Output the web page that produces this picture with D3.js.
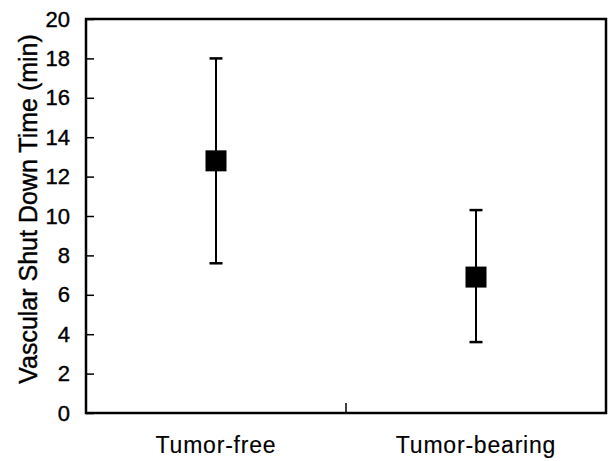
<!DOCTYPE html>
<html>
<head>
<meta charset="utf-8">
<script src="https://cdn.jsdelivr.net/npm/d3@7"></script>
<style>
  html, body { margin: 0; padding: 0; background: #fff; }
  text { font-family: "Liberation Sans", Arial, sans-serif; fill: #000; stroke: #000; stroke-width: 0.4px; }
  text.cat { stroke-width: 0.15px; }
</style>
</head>
<body>
<svg id="chart" width="611" height="461"></svg>
<script>
// values
const groups = ["Tumor-free", "Tumor-bearing"];
const meanTime = [12.8, 6.9];
const upperTime = [18.0, 10.3];
const lowerTime = [7.6, 3.6];
const yTicks = [0, 2, 4, 6, 8, 10, 12, 14, 16, 18, 20];

const svg = d3.select("#chart");
const margin = { top: 19, right: 5, bottom: 48, left: 86 };
const width = +svg.attr("width") - margin.left - margin.right;
const height = +svg.attr("height") - margin.top - margin.bottom;

const g = svg.append("g")
    .attr("transform", `translate(${margin.left},${margin.top})`);

const x = d3.scaleBand()
    .domain(groups)
    .range([0, width]);

const y = d3.scaleLinear()
    .domain([0, 20])
    .range([height, 0]);

// frame
g.append("rect")
    .attr("width", width)
    .attr("height", height)
    .attr("fill", "none")
    .attr("stroke", "#000")
    .attr("stroke-width", 2.5);

// left axis, ticks pointing inward
const yAxis = g.append("g")
    .call(d3.axisLeft(y).tickValues(yTicks).tickSize(-8).tickPadding(16));
yAxis.select(".domain").remove();
yAxis.selectAll(".tick line").attr("stroke-width", 1.5);
yAxis.selectAll(".tick text")
    .attr("font-size", 22)
    .attr("font-family", "Liberation Sans, Arial, sans-serif");

// single tick in the middle of the bottom edge
g.append("line")
    .attr("x1", x(groups[1]))
    .attr("x2", x(groups[1]))
    .attr("y1", height)
    .attr("y2", height - 10)
    .attr("stroke", "#000")
    .attr("stroke-width", 1.5);

// category labels
g.selectAll(".cat")
    .data(groups)
    .enter().append("text")
    .attr("class", "cat")
    .attr("x", d => x(d) + x.bandwidth() / 2)
    .attr("y", height + 40)
    .attr("text-anchor", "middle")
    .attr("font-size", 23)
    .attr("letter-spacing", 0.8)
    .text(d => d);

// y title
svg.append("text")
    .attr("transform", "translate(37,209) rotate(-90)")
    .attr("text-anchor", "middle")
    .attr("font-size", 25)
    .text("Vascular Shut Down Time (min)");

// error bars + markers
const pts = groups.map((d, i) => ({
    group: d, mean: meanTime[i], hi: upperTime[i], lo: lowerTime[i]
}));
const capW = 13;
const sq = 21;

const pt = g.selectAll(".pt")
    .data(pts)
    .enter().append("g")
    .attr("class", "pt")
    .attr("transform", d => `translate(${x(d.group) + x.bandwidth() / 2},0)`);

pt.append("line")
    .attr("y1", d => y(d.hi))
    .attr("y2", d => y(d.lo))
    .attr("stroke", "#000")
    .attr("stroke-width", 2);

pt.selectAll(".cap")
    .data(d => [d.hi, d.lo])
    .enter().append("line")
    .attr("class", "cap")
    .attr("x1", -capW / 2)
    .attr("x2", capW / 2)
    .attr("y1", v => y(v))
    .attr("y2", v => y(v))
    .attr("stroke", "#000")
    .attr("stroke-width", 2.5);

pt.append("rect")
    .attr("x", -sq / 2)
    .attr("y", d => y(d.mean) - sq / 2)
    .attr("width", sq)
    .attr("height", sq)
    .attr("fill", "#000");
</script>
</body>
</html>
